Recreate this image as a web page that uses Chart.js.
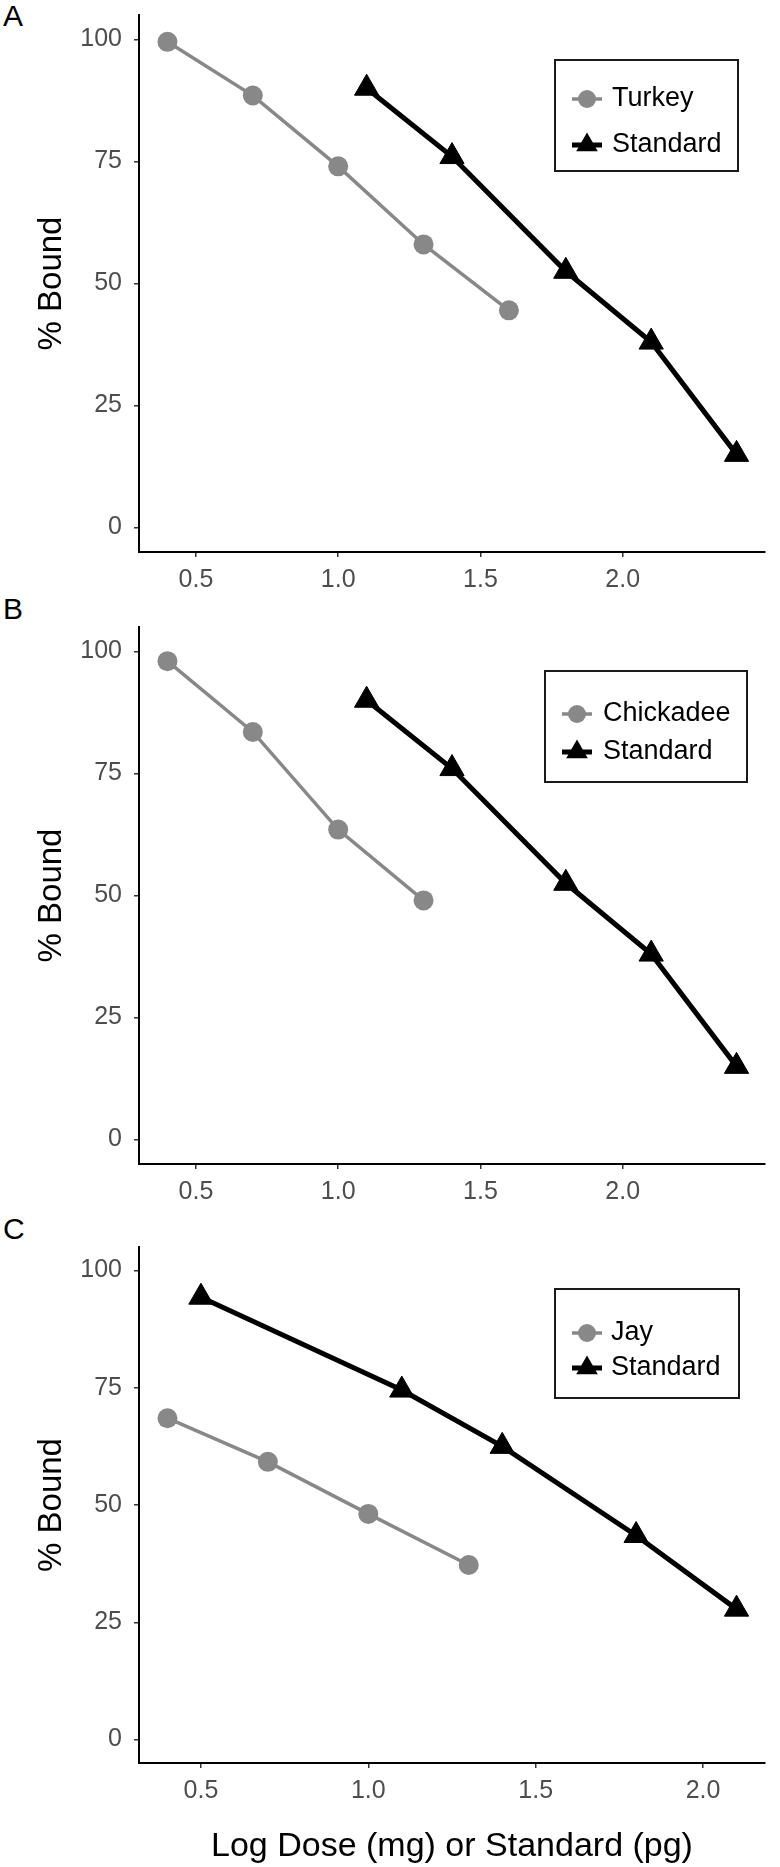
<!DOCTYPE html>
<html>
<head>
<meta charset="utf-8">
<script src="https://cdn.jsdelivr.net/npm/chart.js"></script>
<style>
  body { margin:0; background:#fff; width:780px; height:1867px; position:relative; overflow:hidden; font-family:"Liberation Sans", Arial, sans-serif; }
  canvas { position:absolute; left:0; }
  .tag { position:absolute; left:3px; font-size:30px; line-height:30px; color:#000; }
</style>
</head>
<body>
<div class="tag" style="top:1px">A</div>
<div class="tag" style="top:594px">B</div>
<div class="tag" style="top:1214px">C</div>
<canvas id="chartA" width="780" height="612" style="top:0"></canvas>
<canvas id="chartB" width="780" height="612" style="top:612px"></canvas>
<canvas id="chartC" width="780" height="635" style="top:1232px"></canvas>
<script>
// log dose (x) and % bound (y)
var turkeyDose = [0.4, 0.7, 1.0, 1.3, 1.6];
var turkeyBound = [99.5, 88.5, 74, 58, 44.5];
var chickadeeDose = [0.4, 0.7, 1.0, 1.3];
var chickadeeBound = [98, 83.5, 63.5, 49];
var jayDose = [0.4, 0.7, 1.0, 1.3];
var jayBound = [68.5, 59.2, 48.1, 37.2];
var stdDoseAB = [1.1, 1.4, 1.8, 2.1, 2.4];
var stdBoundAB = [90, 76, 52.5, 38, 15];
var stdDoseC = [0.5, 1.1, 1.4, 1.8, 2.1];
var stdBoundC = [94.3, 74.5, 62.5, 43.5, 27.8];

var xTicks = [0.5, 1.0, 1.5, 2.0];
var yTicks = [0, 25, 50, 75, 100];

var FONT = '"Liberation Sans", Arial, sans-serif';
Chart.defaults.font.family = FONT;

function pairs(xs, ys) {
  return xs.map(function (x, i) { return {x: x, y: ys[i]}; });
}

// legend in a box, drawn inside the plot like ggplot's
var boxLegend = {
  id: 'boxLegend',
  afterDraw: function (chart, args, o) {
    var ctx = chart.ctx;
    ctx.save();
    ctx.lineWidth = 2;
    ctx.strokeStyle = '#1a1a1a';
    ctx.strokeRect(o.box[0], o.box[1], o.box[2] - o.box[0], o.box[3] - o.box[1]);
    chart.data.datasets.forEach(function (ds, i) {
      var y = o.rows[i], x = o.symX;
      ctx.strokeStyle = ds.borderColor;
      ctx.lineWidth = ds.borderWidth;
      ctx.beginPath();
      ctx.moveTo(x - 15, y);
      ctx.lineTo(x + 15, y);
      ctx.stroke();
      ctx.fillStyle = ds.pointBackgroundColor;
      ctx.beginPath();
      if (ds.pointStyle === 'triangle') {
        var r = 12.5;
        ctx.moveTo(x, y - r);
        ctx.lineTo(x + 0.866 * r, y + 0.5 * r);
        ctx.lineTo(x - 0.866 * r, y + 0.5 * r);
        ctx.closePath();
      } else {
        ctx.arc(x, y, 9, 0, Math.PI * 2);
      }
      ctx.fill();
      ctx.fillStyle = '#000';
      ctx.font = '27px ' + FONT;
      ctx.textBaseline = 'middle';
      ctx.textAlign = 'left';
      ctx.fillText(ds.label, o.textX, y);
    });
    ctx.restore();
  }
};

function makeChart(id, name, sx, sy, tx, ty, xMin, xMax, xH, showXTitle, legend) {
  var ctx = document.getElementById(id).getContext('2d');
  return new Chart(ctx, {
    type: 'line',
    data: {
      datasets: [{
        label: name,
        data: pairs(sx, sy),
        borderColor: '#888888',
        backgroundColor: '#888888',
        pointBackgroundColor: '#888888',
        pointBorderColor: '#888888',
        borderWidth: 3.5,
        pointStyle: 'circle',
        pointRadius: 10,
        pointBorderWidth: 0
      }, {
        label: 'Standard',
        data: pairs(tx, ty),
        borderColor: '#000000',
        backgroundColor: '#000000',
        pointBackgroundColor: '#000000',
        pointBorderColor: '#000000',
        borderWidth: 5,
        pointStyle: 'triangle',
        pointRadius: 14,
        pointBorderWidth: 1
      }]
    },
    options: {
      responsive: false,
      animation: false,
      devicePixelRatio: 1,
      layout: {padding: {left: 0, right: 3, top: 6, bottom: 0}},
      elements: {line: {tension: 0}},
      plugins: {
        legend: {display: false},
        tooltip: {enabled: false},
        boxLegend: legend
      },
      scales: {
        x: {
          type: 'linear',
          min: xMin,
          max: xMax,
          afterBuildTicks: function (s) { s.ticks = xTicks.map(function (v) { return {value: v}; }); },
          afterFit: function (s) { s.height = xH; s.paddingLeft = 0; s.paddingRight = 0; },
          grid: {drawOnChartArea: false, drawTicks: true, tickLength: 5, color: '#333', lineWidth: 1.5},
          border: {display: true, color: '#000', width: 2},
          ticks: {
            font: {size: 25}, color: '#4d4d4d', padding: 8, maxRotation: 0, autoSkip: false,
            callback: function (v) { return Number(v).toFixed(1); }
          },
          title: {
            display: showXTitle,
            text: 'Log Dose (mg) or Standard (pg)',
            color: '#000',
            font: {size: 34},
            padding: {top: 9, bottom: 0}
          }
        },
        y: {
          min: -5,
          max: 105,
          afterBuildTicks: function (s) { s.ticks = yTicks.map(function (v) { return {value: v}; }); },
          afterFit: function (s) { s.width = 139; s.paddingTop = 0; s.paddingBottom = 0; },
          grid: {drawOnChartArea: false, drawTicks: true, tickLength: 5, color: '#333', lineWidth: 1.5},
          border: {display: true, color: '#000', width: 2},
          ticks: {font: {size: 25}, color: '#4d4d4d', padding: 12, autoSkip: false},
          title: {
            display: true,
            text: '% Bound',
            color: '#000',
            font: {size: 33},
            padding: {top: 32, bottom: 0}
          }
        }
      }
    },
    plugins: [boxLegend]
  });
}

makeChart('chartA', 'Turkey', turkeyDose, turkeyBound, stdDoseAB, stdBoundAB, 0.3, 2.5, 60, false,
  {box: [555, 60, 738, 171], rows: [99, 145], symX: 587, textX: 612});
makeChart('chartB', 'Chickadee', chickadeeDose, chickadeeBound, stdDoseAB, stdBoundAB, 0.3, 2.5, 60, false,
  {box: [545, 59, 747, 170], rows: [102, 140], symX: 577, textX: 603});
makeChart('chartC', 'Jay', jayDose, jayBound, stdDoseC, stdBoundC, 0.315, 2.185, 104, true,
  {box: [555, 57, 739, 166], rows: [101, 136], symX: 587, textX: 611});
</script>
</body>
</html>
